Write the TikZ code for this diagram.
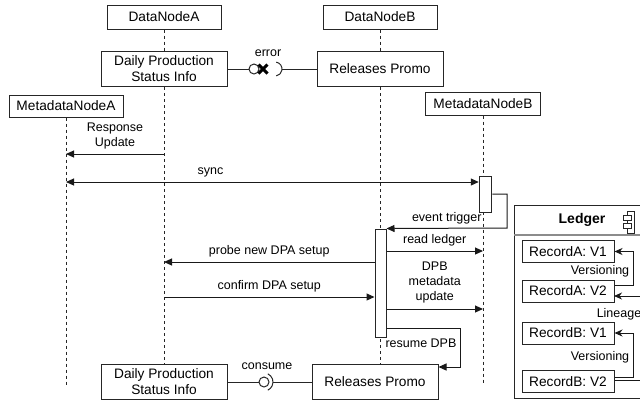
\documentclass[tikz,border=0pt]{standalone}
\usepackage{fontspec}
\setmainfont{Liberation Sans}
\usetikzlibrary{arrows.meta}

\tikzset{
  blk/.tip={Triangle[length=8pt,width=7pt]},
  stl/.tip={Stealth[length=8pt,width=7pt,inset=2.5pt]},
  obj/.style={draw=black!85, line width=1pt, fill=white, inner sep=0pt, align=center, font=\fontsize{13.7}{16}\selectfont},
  life/.style={draw=black!85, line width=1pt, dash pattern=on 3pt off 3pt},
  act/.style={draw=black!85, line width=1pt, fill=white, inner sep=0pt},
  msg/.style={draw=black!90, line width=1pt, -blk},
  link/.style={draw=black!90, line width=1pt, -stl},
  lbl/.style={inner sep=0pt, align=center, font=\fontsize{12.5}{15}\selectfont}
}

\begin{document}
\begin{tikzpicture}[x=1pt,y=-1pt]
\useasboundingbox (0,0) rectangle (640,400);
\clip (0,0) rectangle (640,400);

\node[obj, minimum width=114pt, minimum height=24pt] (dnA) at (164,17) {DataNodeA};
\node[obj, minimum width=114pt, minimum height=24pt] (dnB) at (380,17) {DataNodeB};
\node[obj, minimum width=126pt, minimum height=35pt] (dpsTop) at (164,69) {Daily Production\\Status Info};
\node[obj, minimum width=126pt, minimum height=35pt] (rpTop) at (380,69) {Releases Promo};
\node[obj, minimum width=114pt, minimum height=22pt] (mnA) at (66,106) {MetadataNodeA};
\node[obj, minimum width=115pt, minimum height=23pt] (mnB) at (483,103.5) {MetadataNodeB};
\node[obj, minimum width=126pt, minimum height=35pt] (dpsBot) at (164,382) {Daily Production\\Status Info};
\node[obj, minimum width=126pt, minimum height=35pt] (rpBot) at (375,382) {Releases Promo};

\coordinate (endA) at (66,386);
\coordinate (endB) at (483,385);
\draw[life] (dnA.south) -- (dpsTop.north);
\draw[life] (dpsTop.south) -- (dpsBot.north);
\draw[life] (dnB.south) -- (rpTop.north);
\draw[life] (rpTop.south) -- (rpTop.south |- rpBot.north);
\draw[life] (mnA.south) -- (endA);
\draw[life] (mnB.south) -- (endB);

\node[act, minimum width=12.5pt, minimum height=36pt] (actMB) at (485.5,194) {};
\node[act, minimum width=11pt, minimum height=108pt] (actDB) at (380.5,283) {};

\coordinate (rResp) at (0,154);
\coordinate (rSync) at (0,182);
\coordinate (rRead) at (0,251);
\coordinate (rProbe) at (0,262);
\coordinate (rConf) at (0,297);
\coordinate (rUpd) at (0,309);
\coordinate (rRes) at (0,328);
\coordinate (trig) at (507,228);
\coordinate (resume) at (460,367);

\draw[msg] (dnA |- rResp) -- node[lbl, above=4pt] {Response\\Update} (mnA |- rResp);
\draw[msg, blk-blk] (mnA |- rSync) -- node[lbl, above=4pt, pos=0.35] {sync} (actMB.west |- rSync);
\draw[msg] (actMB.east) -| (trig) -- node[lbl, above=4pt] {event trigger} (actDB.north east);
\draw[msg] (actDB.east |- rRead) -- node[lbl, above=4pt] {read ledger} (mnB |- rRead);
\draw[msg] (actDB.west |- rProbe) -- node[lbl, above=4pt] {probe new DPA setup} (dnA |- rProbe);
\draw[msg] (dnA |- rConf) -- node[lbl, above=4pt] {confirm DPA setup} (actDB.west |- rConf);
\draw[msg] (actDB.east |- rUpd) -- node[lbl, above=5pt] {DPB\\metadata\\update} (mnB |- rUpd);
\draw[msg] (actDB.east |- rRes) -| (resume) -- (rpBot.east |- resume);
\node[lbl] (resLbl) at (421,343) {resume DPB};

% provided / required interfaces
\node[circle, draw=black!85, line width=1pt, minimum size=10pt, inner sep=0pt] (ballTop) at (254,69) {};
\coordinate (crossTop) at (263,69);
\coordinate (sockTop) at (275,69);
\coordinate (sockTopR) at (282,69);
\draw[line width=1pt, black!85] (dpsTop.east) -- (ballTop.west);
\draw[line width=1pt, black!85] (sockTop) ++(-80:7) arc (-80:80:7);
\draw[line width=1pt, black!85] (sockTopR) -- (rpTop.west);
\draw[line width=3pt] (crossTop) ++(-4.5,-4.5) -- ++(9,9) (crossTop) ++(-4.5,4.5) -- ++(9,-9);
\node[lbl] (errLbl) at (268,53) {error};

\node[circle, draw=black!85, line width=1pt, minimum size=10pt, inner sep=0pt] (ballBot) at (264,382) {};
\coordinate (sockBot) at (264,382);
\coordinate (sockBotR) at (273,382);
\draw[line width=1pt, black!85] (dpsBot.east) -- (ballBot.west);
\draw[line width=1pt, black!85] (sockBot) ++(-65:9) arc (-65:65:9);
\draw[line width=1pt, black!85] (sockBotR) -- (rpBot.west);
\node[lbl] (conLbl) at (267,366) {consume};

% ledger
\draw[line width=1pt, black!85] (514,205) rectangle (700,398);
\draw[line width=1.5pt, black!45] (514,235) -- (700,235);
\node[inner sep=0pt, font=\bfseries\fontsize{14}{16}\selectfont] (ledger) at (582,220) {Ledger};
\draw[line width=0.9pt, black!85] (627,211) rectangle (634,233);
\draw[line width=0.9pt, black!85, fill=white] (623,215) rectangle (631,220) (623,223) rectangle (631,228);

\node[obj, minimum width=92pt, minimum height=22pt] (recA1) at (568,251.5) {RecordA: V1};
\node[obj, minimum width=92pt, minimum height=22pt] (recA2) at (568,291) {RecordA: V2};
\node[obj, minimum width=92pt, minimum height=22pt] (recB1) at (568,333) {RecordB: V1};
\node[obj, minimum width=92pt, minimum height=22pt] (recB2) at (568,381.5) {RecordB: V2};

\coordinate (verA) at (633,285);
\coordinate (verB) at (633,377);
\coordinate (linR) at (648,380);
\coordinate (linIn) at (614,296);
\draw[link] (recA2.east |- verA) -- (verA) |- (recA1.east);
\draw[link] (recB2.east |- verB) -- (verB) |- (recB1.east);
\draw[link] (recB2.east |- linR) -- (linR) |- (linIn);
\node[lbl] (verALbl) at (600,271) {Versioning};
\node[lbl] (verBLbl) at (600,357) {Versioning};
\node[lbl] (linLbl) at (619,314) {Lineage};
\end{tikzpicture}
\end{document}
